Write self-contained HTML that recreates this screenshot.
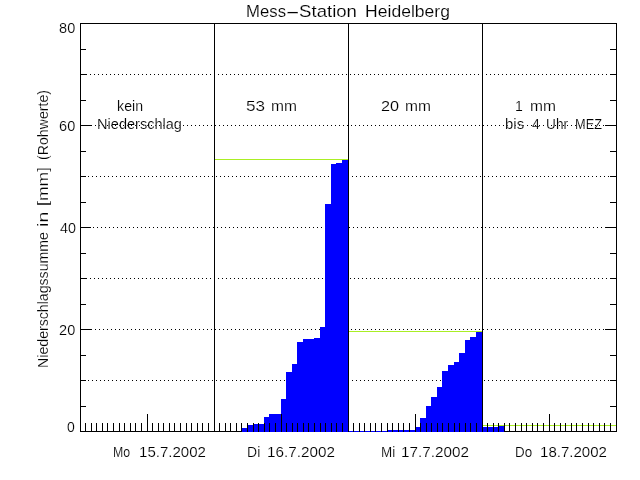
<!DOCTYPE html>
<html lang="de"><head><meta charset="utf-8"><title>Mess-Station Heidelberg</title>
<style>html,body{margin:0;padding:0;background:#fff;overflow:hidden}svg{display:block}text{font-family:"Liberation Sans",sans-serif;fill:#000;white-space:pre;stroke:#fff;stroke-width:.16px;paint-order:fill stroke}.t{font-size:14px}.ti{font-size:17px}</style></head><body>
<svg width="640" height="480" viewBox="0 0 640 480">
<rect width="640" height="480" fill="#fff"/>
<g shape-rendering="crispEdges">
<rect x="80" y="23" width="537" height="1" fill="#000"/>
<rect x="80" y="431" width="537" height="1" fill="#000"/>
<rect x="80" y="23" width="1" height="409" fill="#000"/>
<rect x="616" y="23" width="1" height="409" fill="#000"/>
<path d="M80 380.5H616" stroke="#000" stroke-width="1" stroke-dasharray="1 3" fill="none"/>
<path d="M83 329.5H616" stroke="#000" stroke-width="1" stroke-dasharray="1 3" fill="none"/>
<path d="M82 278.5H616" stroke="#000" stroke-width="1" stroke-dasharray="1 3" fill="none"/>
<path d="M81 227.5H616" stroke="#000" stroke-width="1" stroke-dasharray="1 3" fill="none"/>
<path d="M80 176.5H616" stroke="#000" stroke-width="1" stroke-dasharray="1 3" fill="none"/>
<path d="M83 125.5H616" stroke="#000" stroke-width="1" stroke-dasharray="1 3" fill="none"/>
<path d="M82 74.5H616" stroke="#000" stroke-width="1" stroke-dasharray="1 3" fill="none"/>
<rect x="81" y="406" width="5" height="1" fill="#000"/>
<rect x="610" y="406" width="6" height="1" fill="#000"/>
<rect x="81" y="380" width="5" height="1" fill="#000"/>
<rect x="610" y="380" width="6" height="1" fill="#000"/>
<rect x="81" y="355" width="5" height="1" fill="#000"/>
<rect x="610" y="355" width="6" height="1" fill="#000"/>
<rect x="81" y="329" width="10" height="1" fill="#000"/>
<rect x="605" y="329" width="11" height="1" fill="#000"/>
<rect x="81" y="304" width="5" height="1" fill="#000"/>
<rect x="610" y="304" width="6" height="1" fill="#000"/>
<rect x="81" y="278" width="5" height="1" fill="#000"/>
<rect x="610" y="278" width="6" height="1" fill="#000"/>
<rect x="81" y="253" width="5" height="1" fill="#000"/>
<rect x="610" y="253" width="6" height="1" fill="#000"/>
<rect x="81" y="227" width="10" height="1" fill="#000"/>
<rect x="605" y="227" width="11" height="1" fill="#000"/>
<rect x="81" y="202" width="5" height="1" fill="#000"/>
<rect x="610" y="202" width="6" height="1" fill="#000"/>
<rect x="81" y="176" width="5" height="1" fill="#000"/>
<rect x="610" y="176" width="6" height="1" fill="#000"/>
<rect x="81" y="151" width="5" height="1" fill="#000"/>
<rect x="610" y="151" width="6" height="1" fill="#000"/>
<rect x="81" y="125" width="10" height="1" fill="#000"/>
<rect x="605" y="125" width="11" height="1" fill="#000"/>
<rect x="81" y="100" width="5" height="1" fill="#000"/>
<rect x="610" y="100" width="6" height="1" fill="#000"/>
<rect x="81" y="74" width="5" height="1" fill="#000"/>
<rect x="610" y="74" width="6" height="1" fill="#000"/>
<rect x="81" y="49" width="5" height="1" fill="#000"/>
<rect x="610" y="49" width="6" height="1" fill="#000"/>
<rect x="241" y="428" width="6" height="4" fill="#0000ff"/>
<rect x="247" y="425" width="6" height="7" fill="#0000ff"/>
<rect x="253" y="424" width="11" height="8" fill="#0000ff"/>
<rect x="264" y="417" width="5" height="15" fill="#0000ff"/>
<rect x="269" y="414" width="12" height="18" fill="#0000ff"/>
<rect x="281" y="399" width="5" height="33" fill="#0000ff"/>
<rect x="286" y="372" width="6" height="60" fill="#0000ff"/>
<rect x="292" y="364" width="5" height="68" fill="#0000ff"/>
<rect x="297" y="342" width="6" height="90" fill="#0000ff"/>
<rect x="303" y="339" width="11" height="93" fill="#0000ff"/>
<rect x="314" y="338" width="6" height="94" fill="#0000ff"/>
<rect x="320" y="327" width="5" height="105" fill="#0000ff"/>
<rect x="325" y="204" width="6" height="228" fill="#0000ff"/>
<rect x="331" y="164" width="5" height="268" fill="#0000ff"/>
<rect x="336" y="163" width="6" height="269" fill="#0000ff"/>
<rect x="342" y="160" width="6" height="272" fill="#0000ff"/>
<rect x="349" y="431" width="38" height="1" fill="#0000ff"/>
<rect x="387" y="430" width="28" height="2" fill="#0000ff"/>
<rect x="415" y="427" width="5" height="5" fill="#0000ff"/>
<rect x="420" y="418" width="6" height="14" fill="#0000ff"/>
<rect x="426" y="406" width="5" height="26" fill="#0000ff"/>
<rect x="431" y="397" width="6" height="35" fill="#0000ff"/>
<rect x="437" y="387" width="5" height="45" fill="#0000ff"/>
<rect x="442" y="371" width="6" height="61" fill="#0000ff"/>
<rect x="448" y="365" width="6" height="67" fill="#0000ff"/>
<rect x="454" y="362" width="5" height="70" fill="#0000ff"/>
<rect x="459" y="353" width="6" height="79" fill="#0000ff"/>
<rect x="465" y="340" width="5" height="92" fill="#0000ff"/>
<rect x="470" y="337" width="6" height="95" fill="#0000ff"/>
<rect x="476" y="332" width="6" height="100" fill="#0000ff"/>
<rect x="483" y="427" width="15" height="5" fill="#0000ff"/>
<rect x="498" y="426" width="6" height="6" fill="#0000ff"/>
<rect x="215" y="159" width="133" height="1" fill="#aaee24"/>
<rect x="349" y="331" width="133" height="1" fill="#aaee24"/>
<rect x="483" y="425" width="133" height="1" fill="#aaee24"/>
<rect x="214" y="23" width="1" height="409" fill="#000"/>
<rect x="348" y="23" width="1" height="409" fill="#000"/>
<rect x="482" y="23" width="1" height="409" fill="#000"/>
<rect x="85" y="423" width="1" height="9" fill="#000"/>
<rect x="91" y="423" width="1" height="9" fill="#000"/>
<rect x="96" y="423" width="1" height="9" fill="#000"/>
<rect x="102" y="423" width="1" height="9" fill="#000"/>
<rect x="107" y="423" width="1" height="9" fill="#000"/>
<rect x="113" y="423" width="1" height="9" fill="#000"/>
<rect x="119" y="423" width="1" height="9" fill="#000"/>
<rect x="124" y="423" width="1" height="9" fill="#000"/>
<rect x="130" y="423" width="1" height="9" fill="#000"/>
<rect x="135" y="423" width="1" height="9" fill="#000"/>
<rect x="141" y="423" width="1" height="9" fill="#000"/>
<rect x="147" y="414" width="1" height="18" fill="#000"/>
<rect x="152" y="423" width="1" height="9" fill="#000"/>
<rect x="158" y="423" width="1" height="9" fill="#000"/>
<rect x="163" y="423" width="1" height="9" fill="#000"/>
<rect x="169" y="423" width="1" height="9" fill="#000"/>
<rect x="174" y="423" width="1" height="9" fill="#000"/>
<rect x="180" y="423" width="1" height="9" fill="#000"/>
<rect x="186" y="423" width="1" height="9" fill="#000"/>
<rect x="191" y="423" width="1" height="9" fill="#000"/>
<rect x="197" y="423" width="1" height="9" fill="#000"/>
<rect x="202" y="423" width="1" height="9" fill="#000"/>
<rect x="208" y="423" width="1" height="9" fill="#000"/>
<rect x="219" y="423" width="1" height="9" fill="#000"/>
<rect x="225" y="423" width="1" height="9" fill="#000"/>
<rect x="230" y="423" width="1" height="9" fill="#000"/>
<rect x="236" y="423" width="1" height="9" fill="#000"/>
<rect x="241" y="423" width="1" height="9" fill="#000"/>
<rect x="247" y="423" width="1" height="9" fill="#000"/>
<rect x="253" y="423" width="1" height="9" fill="#000"/>
<rect x="258" y="423" width="1" height="9" fill="#000"/>
<rect x="264" y="423" width="1" height="9" fill="#000"/>
<rect x="269" y="423" width="1" height="9" fill="#000"/>
<rect x="275" y="423" width="1" height="9" fill="#000"/>
<rect x="281" y="414" width="1" height="18" fill="#000"/>
<rect x="286" y="423" width="1" height="9" fill="#000"/>
<rect x="292" y="423" width="1" height="9" fill="#000"/>
<rect x="297" y="423" width="1" height="9" fill="#000"/>
<rect x="303" y="423" width="1" height="9" fill="#000"/>
<rect x="308" y="423" width="1" height="9" fill="#000"/>
<rect x="314" y="423" width="1" height="9" fill="#000"/>
<rect x="320" y="423" width="1" height="9" fill="#000"/>
<rect x="325" y="423" width="1" height="9" fill="#000"/>
<rect x="331" y="423" width="1" height="9" fill="#000"/>
<rect x="336" y="423" width="1" height="9" fill="#000"/>
<rect x="342" y="423" width="1" height="9" fill="#000"/>
<rect x="353" y="423" width="1" height="9" fill="#000"/>
<rect x="359" y="423" width="1" height="9" fill="#000"/>
<rect x="364" y="423" width="1" height="9" fill="#000"/>
<rect x="370" y="423" width="1" height="9" fill="#000"/>
<rect x="375" y="423" width="1" height="9" fill="#000"/>
<rect x="381" y="423" width="1" height="9" fill="#000"/>
<rect x="387" y="423" width="1" height="9" fill="#000"/>
<rect x="392" y="423" width="1" height="9" fill="#000"/>
<rect x="398" y="423" width="1" height="9" fill="#000"/>
<rect x="403" y="423" width="1" height="9" fill="#000"/>
<rect x="409" y="423" width="1" height="9" fill="#000"/>
<rect x="415" y="414" width="1" height="18" fill="#000"/>
<rect x="420" y="423" width="1" height="9" fill="#000"/>
<rect x="426" y="423" width="1" height="9" fill="#000"/>
<rect x="431" y="423" width="1" height="9" fill="#000"/>
<rect x="437" y="423" width="1" height="9" fill="#000"/>
<rect x="442" y="423" width="1" height="9" fill="#000"/>
<rect x="448" y="423" width="1" height="9" fill="#000"/>
<rect x="454" y="423" width="1" height="9" fill="#000"/>
<rect x="459" y="423" width="1" height="9" fill="#000"/>
<rect x="465" y="423" width="1" height="9" fill="#000"/>
<rect x="470" y="423" width="1" height="9" fill="#000"/>
<rect x="476" y="423" width="1" height="9" fill="#000"/>
<rect x="487" y="423" width="1" height="9" fill="#000"/>
<rect x="493" y="423" width="1" height="9" fill="#000"/>
<rect x="498" y="423" width="1" height="9" fill="#000"/>
<rect x="504" y="423" width="1" height="9" fill="#000"/>
<rect x="509" y="423" width="1" height="9" fill="#000"/>
<rect x="515" y="423" width="1" height="9" fill="#000"/>
<rect x="521" y="423" width="1" height="9" fill="#000"/>
<rect x="526" y="423" width="1" height="9" fill="#000"/>
<rect x="532" y="423" width="1" height="9" fill="#000"/>
<rect x="537" y="423" width="1" height="9" fill="#000"/>
<rect x="543" y="423" width="1" height="9" fill="#000"/>
<rect x="549" y="414" width="1" height="18" fill="#000"/>
<rect x="554" y="423" width="1" height="9" fill="#000"/>
<rect x="560" y="423" width="1" height="9" fill="#000"/>
<rect x="565" y="423" width="1" height="9" fill="#000"/>
<rect x="571" y="423" width="1" height="9" fill="#000"/>
<rect x="576" y="423" width="1" height="9" fill="#000"/>
<rect x="582" y="423" width="1" height="9" fill="#000"/>
<rect x="588" y="423" width="1" height="9" fill="#000"/>
<rect x="593" y="423" width="1" height="9" fill="#000"/>
<rect x="599" y="423" width="1" height="9" fill="#000"/>
<rect x="604" y="423" width="1" height="9" fill="#000"/>
<rect x="610" y="423" width="1" height="9" fill="#000"/>
</g>
<text class="ti" y="17"><tspan x="246.1" textLength="39.9" lengthAdjust="spacingAndGlyphs">Mess</tspan></text>
<text class="ti" transform="translate(285.3,17) scale(2.6,1)">-</text>
<text class="ti" y="17"><tspan x="299.1" textLength="57.87" lengthAdjust="spacingAndGlyphs">Station</tspan> <tspan x="365.1" textLength="84.84" lengthAdjust="spacingAndGlyphs">Heidelberg</tspan></text>
<text class="t" y="111"><tspan x="117.1" textLength="25.96" lengthAdjust="spacingAndGlyphs">kein</tspan></text>
<text class="t" y="111"><tspan x="246.1" textLength="19.04" lengthAdjust="spacingAndGlyphs">53</tspan> <tspan x="271.1" textLength="25.96" lengthAdjust="spacingAndGlyphs">mm</tspan></text>
<text class="t" y="111"><tspan x="381.1" textLength="18.06" lengthAdjust="spacingAndGlyphs">20</tspan> <tspan x="405.1" textLength="25.96" lengthAdjust="spacingAndGlyphs">mm</tspan></text>
<text class="t" y="111"><tspan x="515.1">1</tspan> <tspan x="530.1" textLength="25.96" lengthAdjust="spacingAndGlyphs">mm</tspan></text>
<text class="t" y="129"><tspan x="97.1" textLength="84.84" lengthAdjust="spacingAndGlyphs">Niederschlag</tspan></text>
<text class="t" y="129"><tspan x="505.1" textLength="18.95" lengthAdjust="spacingAndGlyphs">bis</tspan> <tspan x="532.0">4</tspan> <tspan x="546.1" textLength="21.94" lengthAdjust="spacingAndGlyphs">Uhr</tspan> <tspan x="575.1" textLength="26.94" lengthAdjust="spacingAndGlyphs">MEZ</tspan></text>
<text class="t" y="457"><tspan x="113.1" textLength="17.1" lengthAdjust="spacingAndGlyphs">Mo</tspan> <tspan x="139.1" textLength="66.86" lengthAdjust="spacingAndGlyphs">15.7.2002</tspan></text>
<text class="t" y="457"><tspan x="247.1" textLength="13.2" lengthAdjust="spacingAndGlyphs">Di</tspan> <tspan x="267.1" textLength="67.86" lengthAdjust="spacingAndGlyphs">16.7.2002</tspan></text>
<text class="t" y="457"><tspan x="381.1" textLength="14.16" lengthAdjust="spacingAndGlyphs">Mi</tspan> <tspan x="401.1" textLength="67.86" lengthAdjust="spacingAndGlyphs">17.7.2002</tspan></text>
<text class="t" y="457"><tspan x="515.1" textLength="17.1" lengthAdjust="spacingAndGlyphs">Do</tspan> <tspan x="540.1" textLength="66.86" lengthAdjust="spacingAndGlyphs">18.7.2002</tspan></text>
<text class="t" y="33"><tspan x="59.1" textLength="16.12" lengthAdjust="spacingAndGlyphs">80</tspan></text>
<text class="t" y="131"><tspan x="59.1" textLength="16.12" lengthAdjust="spacingAndGlyphs">60</tspan></text>
<text class="t" y="233"><tspan x="60.0" textLength="15.96" lengthAdjust="spacingAndGlyphs">40</tspan></text>
<text class="t" y="335"><tspan x="59.1" textLength="16.12" lengthAdjust="spacingAndGlyphs">20</tspan></text>
<text class="t" y="432"><tspan x="67.1">0</tspan></text>
<text class="t" y="0" transform="translate(48,367) rotate(-90)"><tspan x="-0.9" textLength="135.83" lengthAdjust="spacingAndGlyphs">Niederschlagssumme</tspan> <tspan x="140.1" textLength="15.13" lengthAdjust="spacingAndGlyphs">in</tspan> <tspan x="161.1" textLength="38.9" lengthAdjust="spacingAndGlyphs">[mm]</tspan> <tspan x="207.1" textLength="69.85" lengthAdjust="spacingAndGlyphs">(Rohwerte)</tspan></text>
</svg></body></html>
